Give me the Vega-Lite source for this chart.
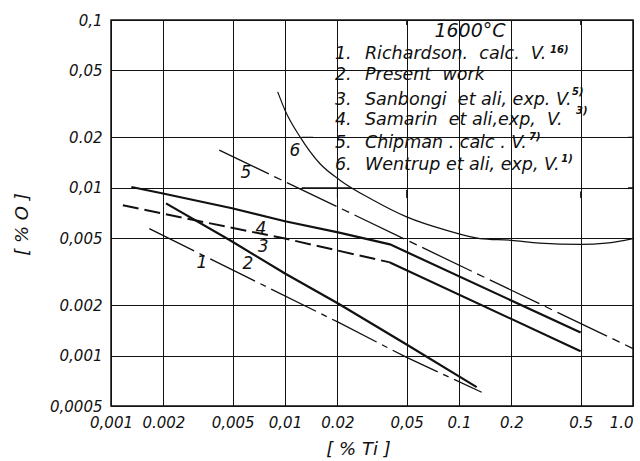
{
  "$schema": "https://vega.github.io/schema/vega-lite/v6.json",
  "width": 522,
  "height": 386,
  "autosize": {"type": "none"},
  "padding": {"left": 111, "top": 20, "right": 7, "bottom": 55},
  "background": "white",
  "config": {"view": {"stroke": "#111", "strokeWidth": 1.5}, "font": "DejaVu Sans"},
  "datasets": {
    "curves": [
      {"curve": "1", "ti": 0.00166, "o": 0.0057},
      {"curve": "1", "ti": 0.0063, "o": 0.00287},
      {"curve": "1", "ti": 0.0202, "o": 0.00158},
      {"curve": "1", "ti": 0.0497, "o": 0.000977},
      {"curve": "1", "ti": 0.135, "o": 0.000604},
      {"curve": "2", "ti": 0.00207, "o": 0.00807},
      {"curve": "2", "ti": 0.00483, "o": 0.00486},
      {"curve": "2", "ti": 0.01, "o": 0.00308},
      {"curve": "2", "ti": 0.0202, "o": 0.00204},
      {"curve": "2", "ti": 0.0489, "o": 0.00118},
      {"curve": "2", "ti": 0.1264, "o": 0.000648},
      {"curve": "3 low", "ti": 0.00117, "o": 0.00787},
      {"curve": "3 low", "ti": 0.00304, "o": 0.0064},
      {"curve": "3 low", "ti": 0.01, "o": 0.00498},
      {"curve": "3 low", "ti": 0.0401, "o": 0.00359},
      {"curve": "3 high", "ti": 0.0401, "o": 0.00359},
      {"curve": "3 high", "ti": 0.5, "o": 0.00106},
      {"curve": "4", "ti": 0.00131, "o": 0.0101},
      {"curve": "4", "ti": 0.00196, "o": 0.00927},
      {"curve": "4", "ti": 0.00496, "o": 0.00755},
      {"curve": "4", "ti": 0.01, "o": 0.00631},
      {"curve": "4", "ti": 0.0202, "o": 0.00542},
      {"curve": "4", "ti": 0.0401, "o": 0.0046},
      {"curve": "4", "ti": 0.5, "o": 0.00137},
      {"curve": "5", "ti": 0.00419, "o": 0.01675},
      {"curve": "5", "ti": 1.0, "o": 0.0011},
      {"curve": "6", "ti": 0.00908, "o": 0.0373},
      {"curve": "6", "ti": 0.01, "o": 0.029},
      {"curve": "6", "ti": 0.0122, "o": 0.0201},
      {"curve": "6", "ti": 0.0159, "o": 0.0139},
      {"curve": "6", "ti": 0.0207, "o": 0.0111},
      {"curve": "6", "ti": 0.0322, "o": 0.00842},
      {"curve": "6", "ti": 0.05, "o": 0.0067},
      {"curve": "6", "ti": 0.085, "o": 0.00557},
      {"curve": "6", "ti": 0.132, "o": 0.00498},
      {"curve": "6", "ti": 0.2, "o": 0.00486},
      {"curve": "6", "ti": 0.29, "o": 0.00468},
      {"curve": "6", "ti": 0.5, "o": 0.0046},
      {"curve": "6", "ti": 0.7, "o": 0.00468},
      {"curve": "6", "ti": 1.0, "o": 0.00498}
    ],
    "gridbits": [
      {"ti": 0.0125, "ti2": 0.0237, "o": 0.01, "o2": 0.01},
      {"ti": 0.0125, "ti2": 0.0145, "o": 0.02, "o2": 0.02},
      {"ti": 0.02, "ti2": 0.02, "o": 0.0087, "o2": 0.0108},
      {"ti": 0.05, "ti2": 0.05, "o": 0.0087, "o2": 0.0097},
      {"ti": 0.5, "ti2": 0.5, "o": 0.0087, "o2": 0.0095},
      {"ti": 0.936, "ti2": 1.0, "o": 0.05, "o2": 0.05},
      {"ti": 0.936, "ti2": 1.0, "o": 0.02, "o2": 0.02},
      {"ti": 0.936, "ti2": 1.0, "o": 0.01, "o2": 0.01},
      {"ti": 0.05, "ti2": 0.05, "o": 0.1, "o2": 0.0933},
      {"ti": 0.5, "ti2": 0.5, "o": 0.1, "o2": 0.0933}
    ],
    "numbers": [
      {"t": "1", "ti": 0.00333, "o": 0.00354},
      {"t": "2", "ti": 0.00612, "o": 0.00349},
      {"t": "3", "ti": 0.00748, "o": 0.00441},
      {"t": "4", "ti": 0.00728, "o": 0.00565},
      {"t": "5", "ti": 0.00597, "o": 0.01221},
      {"t": "6", "ti": 0.0114, "o": 0.01652}
    ],
    "legend": [
      {"t": "1.", "ti": 0.01935, "o": 0.0585},
      {"t": "Richardson.\u00a0 calc.\u00a0 V.", "ti": 0.0288, "o": 0.0585},
      {"t": "2.", "ti": 0.01935, "o": 0.0438},
      {"t": "Present\u00a0 work", "ti": 0.0288, "o": 0.0438},
      {"t": "3.", "ti": 0.01935, "o": 0.0311},
      {"t": "Sanbongi\u00a0 et ali, exp. V.", "ti": 0.0288, "o": 0.0311},
      {"t": "4.", "ti": 0.01935, "o": 0.0236},
      {"t": "Samarin\u00a0 et ali,exp,\u00a0 V.", "ti": 0.0288, "o": 0.0236},
      {"t": "5.", "ti": 0.01935, "o": 0.0172},
      {"t": "Chipman . calc . V.", "ti": 0.0288, "o": 0.0172},
      {"t": "6.", "ti": 0.01935, "o": 0.0127},
      {"t": "Wentrup et ali, exp, V.", "ti": 0.0288, "o": 0.0127}
    ],
    "sups": [
      {"t": "16)", "ti": 0.3334, "o": 0.0635},
      {"t": "5)", "ti": 0.4457, "o": 0.0357},
      {"t": "3)", "ti": 0.4699, "o": 0.0275},
      {"t": "7)", "ti": 0.2523, "o": 0.01923},
      {"t": "1)", "ti": 0.3875, "o": 0.0142}
    ],
    "heading": [
      {"t": "1600°C", "ti": 0.1156, "o": 0.0791}
    ]
  },
  "encoding": {
    "x": {
      "field": "ti",
      "type": "quantitative",
      "scale": {"type": "log", "domain": [0.001, 1], "nice": false},
      "axis": {
        "title": "[ % Ti ]",
        "values": [0.001, 0.002, 0.005, 0.01, 0.02, 0.05, 0.1, 0.2, 0.5, 1],
        "labelExpr": "datum.value == 0.001 ? '0,001' : datum.value == 0.002 ? '0.002' : datum.value == 0.005 ? '0,005' : datum.value == 0.01 ? '0,01' : datum.value == 0.02 ? '0.02' : datum.value == 0.05 ? '0,05' : datum.value == 0.1 ? '0.1' : datum.value == 0.2 ? '0.2' : datum.value == 0.5 ? '0.5' : '1.0'",
        "labelAlign": {"condition": {"test": "datum.value == 1", "value": "right"}, "value": "center"},
        "grid": true,
        "gridColor": "#111",
        "gridOpacity": 1,
        "gridWidth": 1,
        "ticks": false,
        "domain": false,
        "labelFont": "DejaVu Sans",
        "labelFontStyle": "italic",
        "labelFontSize": 15,
        "labelColor": "#111",
        "labelPadding": 9,
        "labelDx": 3,
        "labelFlush": false,
        "labelOverlap": false,
        "titleFont": "DejaVu Sans",
        "titleFontStyle": "italic",
        "titleFontWeight": "normal",
        "titleFontSize": 18,
        "titleColor": "#111",
        "titleX": 247,
        "titleY": 48,
        "titleBaseline": "alphabetic",
        "titleAlign": "center"
      }
    },
    "y": {
      "field": "o",
      "type": "quantitative",
      "scale": {"type": "log", "domain": [0.0005, 0.1], "nice": false},
      "axis": {
        "title": "[ % O ]",
        "values": [0.0005, 0.001, 0.002, 0.005, 0.01, 0.02, 0.05, 0.1],
        "labelExpr": "datum.value == 0.0005 ? '0,0005' : datum.value == 0.001 ? '0,001' : datum.value == 0.002 ? '0.002' : datum.value == 0.005 ? '0,005' : datum.value == 0.01 ? '0,01' : datum.value == 0.02 ? '0.02' : datum.value == 0.05 ? '0,05' : '0,1'",
        "grid": true,
        "gridColor": "#111",
        "gridOpacity": 1,
        "gridWidth": 1,
        "ticks": false,
        "domain": false,
        "labelFont": "DejaVu Sans",
        "labelFontStyle": "italic",
        "labelFontSize": 15,
        "labelColor": "#111",
        "labelPadding": 9,
        "labelFlush": false,
        "labelOverlap": false,
        "titleFont": "DejaVu Sans",
        "titleFontStyle": "italic",
        "titleFontWeight": "normal",
        "titleFontSize": 18,
        "titleColor": "#111",
        "titleX": -89,
        "titleY": 204,
        "titleAngle": 270,
        "titleBaseline": "middle",
        "titleAlign": "center"
      }
    }
  },
  "layer": [
    {
      "data": {"values": [{}]},
      "mark": {"type": "rect", "fill": "white"},
      "encoding": {
        "x": {"datum": 0.0125, "type": "quantitative"},
        "x2": {"datum": 0.985},
        "y": {"datum": 0.0087, "type": "quantitative"},
        "y2": {"datum": 0.0985}
      }
    },
    {
      "data": {"name": "gridbits"},
      "mark": {"type": "rule", "color": "#111", "strokeWidth": 1},
      "encoding": {
        "x2": {"field": "ti2"},
        "y2": {"field": "o2"}
      }
    },
    {
      "data": {"name": "curves"},
      "transform": [{"filter": "datum.curve === '1'"}],
      "mark": {"type": "line", "color": "#111", "strokeWidth": 1.3, "strokeDash": [50, 6, 6, 6]}
    },
    {
      "data": {"name": "curves"},
      "transform": [{"filter": "datum.curve === '2'"}],
      "mark": {"type": "line", "color": "#111", "strokeWidth": 2.2}
    },
    {
      "data": {"name": "curves"},
      "transform": [{"filter": "datum.curve === '3 low'"}],
      "mark": {"type": "line", "color": "#111", "strokeWidth": 2, "strokeDash": [16, 6]}
    },
    {
      "data": {"name": "curves"},
      "transform": [{"filter": "datum.curve === '3 high'"}],
      "mark": {"type": "line", "color": "#111", "strokeWidth": 2.2}
    },
    {
      "data": {"name": "curves"},
      "transform": [{"filter": "datum.curve === '4'"}],
      "mark": {"type": "line", "color": "#111", "strokeWidth": 2.2}
    },
    {
      "data": {"name": "curves"},
      "transform": [{"filter": "datum.curve === '5'"}],
      "mark": {"type": "line", "color": "#111", "strokeWidth": 1.3, "strokeDash": [55, 6, 8, 6]}
    },
    {
      "data": {"name": "curves"},
      "transform": [{"filter": "datum.curve === '6'"}],
      "mark": {"type": "line", "color": "#111", "strokeWidth": 1.2, "interpolate": "monotone"}
    },
    {
      "data": {"name": "numbers"},
      "mark": {"type": "text", "font": "DejaVu Sans", "fontStyle": "italic", "fontSize": 17, "color": "#111", "align": "center", "baseline": "middle"},
      "encoding": {"text": {"field": "t"}}
    },
    {
      "data": {"name": "legend"},
      "mark": {"type": "text", "font": "DejaVu Sans", "fontStyle": "italic", "fontSize": 17.5, "color": "#111", "align": "left", "baseline": "alphabetic"},
      "encoding": {"text": {"field": "t"}}
    },
    {
      "data": {"name": "sups"},
      "mark": {"type": "text", "font": "DejaVu Sans", "fontStyle": "italic", "fontWeight": "bold", "fontSize": 10, "color": "#111", "align": "left", "baseline": "alphabetic"},
      "encoding": {"text": {"field": "t"}}
    },
    {
      "data": {"name": "heading"},
      "mark": {"type": "text", "font": "DejaVu Sans", "fontStyle": "italic", "fontSize": 19, "color": "#111", "align": "center", "baseline": "alphabetic"},
      "encoding": {"text": {"field": "t"}}
    }
  ]
}
